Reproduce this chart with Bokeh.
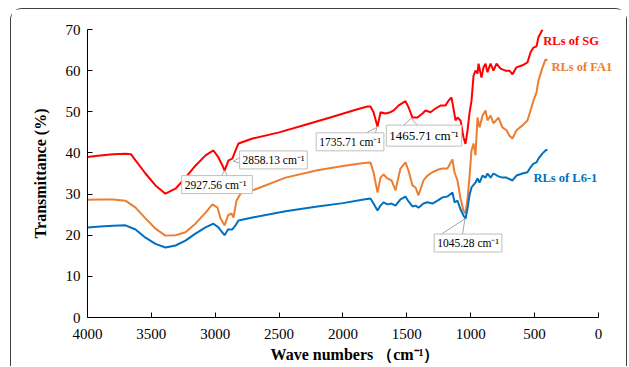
from bokeh.plotting import figure
from bokeh.models import Range1d, FixedTicker, Label
from bokeh.embed import file_html
from bokeh.resources import INLINE

# ---- data ----
sg_w = [4000, 3900, 3800, 3700, 3660, 3624, 3546, 3468, 3390, 3311, 3233, 3155, 3076, 3014,
        2975, 2943, 2927, 2896, 2866, 2841, 2818, 2708, 2500, 2300, 2100, 1900, 1810, 1785,
        1761, 1730, 1706, 1667, 1628, 1600, 1566, 1511, 1487, 1456, 1417, 1378, 1354, 1315,
        1276, 1237, 1198, 1174, 1151, 1135, 1119, 1104, 1080, 1057, 1041, 1025, 1010, 994,
        978, 963, 947, 939, 916, 900, 884, 869, 845, 822, 798, 767, 728, 697, 673, 642, 595,
        556, 532, 509, 485, 470, 438]
sg_t = [39.0, 39.4, 39.7, 39.8, 39.7, 38.2, 35.0, 32.1, 30.1, 31.3, 34.0, 36.9, 39.4, 40.6,
        38.9, 36.9, 35.7, 38.2, 38.6, 40.6, 42.3, 43.5, 45.0, 46.8, 48.6, 50.5, 51.3, 51.3,
        49.9, 46.4, 49.9, 49.6, 49.9, 50.4, 51.5, 52.6, 51.1, 48.6, 48.6, 49.6, 50.3, 49.9,
        50.8, 51.5, 51.5, 52.7, 53.5, 50.8, 47.9, 48.6, 47.9, 43.8, 42.2, 45.5, 49.6, 52.7,
        58.8, 60.0, 59.3, 61.7, 58.3, 60.8, 61.7, 59.6, 61.7, 60.0, 61.7, 60.5, 60.0, 60.0,
        59.1, 60.8, 61.3, 62.0, 64.4, 65.6, 65.9, 68.1, 70.0]

fa_w = [4000, 3900, 3800, 3703, 3624, 3546, 3468, 3390, 3311, 3233, 3155, 3076, 3022, 2982,
        2959, 2927, 2900, 2874, 2857, 2834, 2802, 2708, 2450, 2200, 2000, 1850, 1785, 1761,
        1730, 1706, 1683, 1652, 1620, 1589, 1550, 1511, 1487, 1456, 1432, 1409, 1370, 1339,
        1300, 1260, 1221, 1182, 1143, 1127, 1104, 1080, 1057, 1041, 1025, 1010, 994, 978,
        963, 947, 931, 908, 884, 869, 845, 822, 783, 752, 720, 697, 673, 642, 595, 556, 532,
        509, 485, 470, 438, 415, 399]
fa_t = [28.6, 28.7, 28.7, 28.4, 26.7, 24.1, 21.6, 19.9, 20.0, 20.7, 22.8, 25.5, 27.5, 26.7,
        24.1, 22.4, 24.8, 25.3, 24.3, 28.4, 30.1, 30.9, 34.0, 35.8, 36.8, 37.5, 37.7, 35.3,
        30.4, 34.0, 34.8, 33.8, 33.3, 30.9, 36.2, 37.7, 35.7, 32.1, 31.6, 29.7, 33.3, 34.5,
        35.3, 35.9, 36.2, 36.2, 38.4, 35.3, 33.3, 28.9, 26.0, 25.3, 28.9, 34.0, 40.6, 42.3,
        39.4, 48.6, 46.2, 49.1, 50.3, 47.9, 49.1, 47.2, 48.6, 46.2, 45.5, 44.2, 43.5, 45.5,
        46.7, 47.9, 50.3, 52.7, 54.7, 57.6, 60.8, 62.7, 62.5]

l6_w = [4000, 3900, 3800, 3703, 3624, 3546, 3468, 3390, 3311, 3233, 3155, 3076, 3014, 2975,
        2951, 2927, 2900, 2866, 2841, 2818, 2708, 2450, 2200, 2000, 1850, 1785, 1761, 1730,
        1706, 1683, 1652, 1620, 1589, 1550, 1511, 1487, 1456, 1432, 1409, 1370, 1339, 1300,
        1260, 1221, 1182, 1143, 1127, 1104, 1080, 1057, 1041, 1025, 1010, 994, 963, 947, 931,
        908, 884, 869, 845, 822, 783, 752, 720, 673, 642, 595, 556, 532, 509, 485, 470, 438,
        415, 399]
l6_t = [21.9, 22.1, 22.3, 22.4, 21.4, 19.4, 17.9, 17.0, 17.5, 18.7, 20.4, 21.9, 22.8, 21.9,
        20.9, 20.0, 21.4, 21.4, 22.4, 23.6, 24.3, 25.8, 27.0, 27.8, 28.6, 28.9, 27.7, 26.0,
        27.2, 28.0, 27.5, 27.7, 27.2, 28.7, 29.4, 28.2, 27.0, 27.2, 26.7, 27.7, 28.0, 27.7,
        28.4, 29.2, 29.4, 30.4, 28.0, 28.4, 26.3, 24.8, 24.0, 26.5, 29.7, 31.6, 32.8, 33.8,
        32.8, 34.5, 34.0, 35.0, 34.0, 35.0, 34.3, 34.0, 34.0, 33.3, 34.5, 35.0, 35.3, 36.5,
        37.4, 37.7, 38.6, 39.9, 40.6, 40.8]

x_ticks = [4000, 3500, 3000, 2500, 2000, 1500, 1000, 500, 0]
y_ticks = [0, 10, 20, 30, 40, 50, 60, 70]

series_names = ["RLs of SG", "RLs of FA1", "RLs of L6-1"]
series_colors = ["#FF0000", "#ED7D31", "#0070C0"]
series_label_x = [432, 368, 509]
series_label_y = [67.3, 60.8, 34.0]

# peak callouts: peak wavenumber, peak value, label centre, and two leader anchor points
peak_text = ["2927.56  cm\u207b\u00b9", "2858.13 cm\u207b\u00b9", "1735.71 cm\u207b\u00b9",
             "1465.71 cm\u207b\u00b9", "1045.28 cm\u207b\u00b9"]
peak_w = [2927.56, 2858.13, 1735.71, 1465.71, 1045.28]
peak_t = [35.7, 38.0, 46.2, 48.4, 24.0]
box_x = [2986, 2544, 1945, 1366, 1021]
box_y = [32.3, 38.3, 42.7, 44.2, 18.1]
box_font = ["11.5px", "11.5px", "11.5px", "13px", "11.5px"]
lead_ax = [2960, 2795, 1824, 1526, 1237]
lead_ay = [34.0, 39.1, 44.8, 46.7, 20.1]
lead_bx = [2895, 2795, 1746, 1416, 1065]
lead_by = [34.0, 37.4, 44.8, 46.7, 20.1]

SERIF = "Liberation Serif"

p = figure(width=617, height=358, output_backend="svg", toolbar_location=None,
           x_range=Range1d(4000, -188), y_range=Range1d(0, 70),
           min_border_left=76, min_border_right=6, min_border_top=20, min_border_bottom=50)
p.styles = {"margin-left": "10px", "margin-top": "8px",
            "border": "1px solid #404040", "border-bottom": "none",
            "border-radius": "12px 12px 0 0"}
p.outline_line_color = None
p.xgrid.visible = False
p.ygrid.visible = False
p.background_fill_color = "white"
p.border_fill_color = "white"

for ax in (p.xaxis[0], p.yaxis[0]):
    ax.axis_line_color = "black"
    ax.axis_line_width = 1
    ax.major_tick_in = 5
    ax.major_tick_out = 0
    ax.major_tick_line_color = "black"
    ax.minor_tick_line_color = None
    ax.major_label_text_font = SERIF
    ax.major_label_text_font_size = "15px"
    ax.major_label_text_color = "black"
    ax.axis_label_text_font = SERIF
    ax.axis_label_text_font_style = "bold"
    ax.axis_label_text_font_size = "16px"
    ax.axis_label_text_color = "black"

p.xaxis.ticker = FixedTicker(ticks=x_ticks)
p.yaxis.ticker = FixedTicker(ticks=y_ticks)
p.xaxis.bounds = (0, 4000)
p.xaxis.major_label_standoff = 11
p.xaxis.axis_label_standoff = 4
p.yaxis.major_label_standoff = 7
p.yaxis.axis_label_standoff = 14
p.xaxis.axis_label = "Wave numbers \uff08cm\u207b\u00b9\uff09"
p.yaxis.axis_label = "Transmittance (%)"

for w, t, c in zip([sg_w, fa_w, l6_w], [sg_t, fa_t, l6_t], series_colors):
    p.line(w, t, line_color=c, line_width=2)

for name, c, lx, ly in zip(series_names, series_colors, series_label_x, series_label_y):
    p.add_layout(Label(x=lx, y=ly, text=name, text_color=c, text_font=SERIF,
                       text_font_style="bold", text_font_size="12.5px",
                       text_align="left", text_baseline="middle"))

for i in range(len(peak_w)):
    p.line([lead_ax[i], peak_w[i], lead_bx[i]], [lead_ay[i], peak_t[i], lead_by[i]],
           line_color="#A6A6A6", line_width=1)
    p.add_layout(Label(x=box_x[i], y=box_y[i], text=peak_text[i], text_color="black",
                       text_font=SERIF, text_font_size=box_font[i],
                       text_align="center", text_baseline="middle",
                       background_fill_color="white", border_line_color="#BFBFBF",
                       border_line_width=1, padding=3))

open("out.html", "w").write(file_html(p, INLINE))
